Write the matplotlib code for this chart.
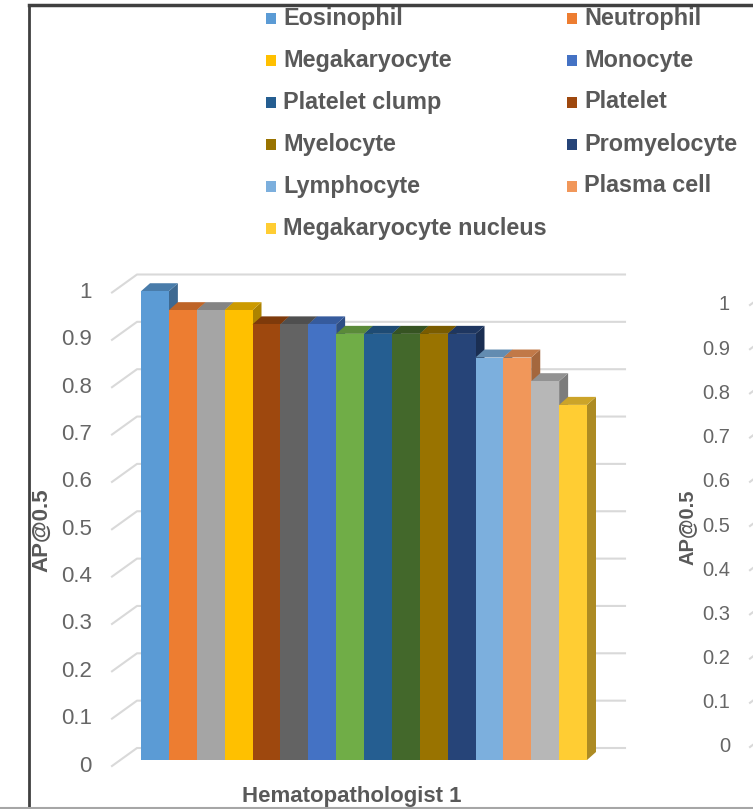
import matplotlib
matplotlib.use("Agg")
import matplotlib.pyplot as plt
from matplotlib.patches import Polygon, Rectangle
from matplotlib.lines import Line2D

# ---------------- data ----------------
cell_types = ["Eosinophil", "Neutrophil", "", "Megakaryocyte", "Platelet", "",
              "Monocyte", "", "Platelet clump", "", "Myelocyte", "Promyelocyte",
              "Lymphocyte", "Plasma cell", "", "Megakaryocyte nucleus"]
ap50 = [0.99, 0.95, 0.95, 0.95, 0.92, 0.92, 0.92, 0.90, 0.90, 0.90, 0.90, 0.90,
        0.85, 0.85, 0.80, 0.75]
bar_colors = ["#5B9BD5", "#ED7D31", "#A5A5A5", "#FFC000", "#9E480E", "#636363",
              "#4472C4", "#70AD47", "#255E91", "#43682B", "#997300", "#264478",
              "#7CAFDD", "#F1975A", "#B7B7B7", "#FFCD33"]
legend_order = ["Eosinophil", "Neutrophil", "Megakaryocyte", "Monocyte",
                "Platelet clump", "Platelet", "Myelocyte", "Promyelocyte",
                "Lymphocyte", "Plasma cell", "Megakaryocyte nucleus"]
y_ticks = [0, 0.1, 0.2, 0.3, 0.4, 0.5, 0.6, 0.7, 0.8, 0.9, 1]
tick_labels = ["0", "0.1", "0.2", "0.3", "0.4", "0.5", "0.6", "0.7", "0.8", "0.9", "1"]
group_label = "Hematopathologist 1"
y_title = "AP@0.5"

# ---------------- layout ----------------
W, H = 753, 809
TXT = "#595959"
GRID = "#d9d9d9"
FONT = "Liberation Sans"

fig = plt.figure(figsize=(W / 100, H / 100), dpi=100)
fig.patch.set_facecolor("white")


def fx(px):
    return px / W


def fy(py):
    return 1 - py / H


def shade(hex_color, f):
    h = hex_color.lstrip("#")
    r, g, b = (int(h[i:i + 2], 16) / 255 for i in (0, 2, 4))
    return (r * f, g * f, b * f)


# main chart: front plane of the bars
ax = fig.add_axes([fx(141), fy(760), fx(446), 473.5 / H])
ax.set_xlim(0, len(ap50))
ax.set_ylim(0, 1)
ax.axis("off")

px_x = 446 / len(ap50)      # pixels per bar slot
px_y = 473.5                # pixels per unit of AP

# 3D depth offsets (in data units)
bar_dx, bar_dy = 9 / px_x, 8 / px_y
wall_dy = 12 / px_y
front_dy = -6 / px_y
wall_x0, wall_x1 = (137 - 141) / px_x, (625 - 141) / px_x
front_x = (112 - 141) / px_x

# back wall gridlines with the perspective stubs toward the tick labels
for v in y_ticks:
    ax.add_line(Line2D([front_x, wall_x0, wall_x1],
                       [v + front_dy, v + wall_dy, v + wall_dy],
                       color=GRID, lw=1.5, clip_on=False, zorder=1))

# tick labels
for v, lab in zip(y_ticks, tick_labels):
    ax.text((92 - 141) / px_x, v + front_dy, lab, ha="right", va="center",
            fontsize=16, color="#666666", family=FONT, clip_on=False)

# 3D bars: side, top, then front face, drawn left to right
for i, (v, c) in enumerate(zip(ap50, bar_colors)):
    z = 10 + 3 * i
    side = Polygon([(i + 1, 0), (i + 1 + bar_dx, bar_dy),
                    (i + 1 + bar_dx, v + bar_dy), (i + 1, v)],
                   closed=True, facecolor=shade(c, 0.68), edgecolor="none",
                   clip_on=False, zorder=z)
    top = Polygon([(i, v), (i + 1, v), (i + 1 + bar_dx, v + bar_dy),
                   (i + bar_dx, v + bar_dy)],
                  closed=True, facecolor=shade(c, 0.8), edgecolor="none",
                  clip_on=False, zorder=z + 1)
    ax.add_patch(side)
    ax.add_patch(top)
    ax.bar(i, v, width=1, align="edge", color=c, edgecolor="none",
           zorder=z + 2, clip_on=False)

# axis titles
fig.text(fx(42), fy(530), y_title, rotation=90, ha="center", va="center",
         fontsize=16, fontweight="bold", color=TXT, family=FONT)
fig.text(fx(352), fy(802), group_label, ha="center", va="baseline",
         fontsize=16, fontweight="bold", color=TXT, family=FONT)

# legend (two columns, row-major)
col_x = [283, 584]
for k, name in enumerate(legend_order):
    row, col = divmod(k, 2)
    base = 24.5 + 42 * row
    c = bar_colors[cell_types.index(name)]
    fig.patches.append(Rectangle((fx(col_x[col] - 17), fy(base - 1)),
                                 10 / W, 11 / H, transform=fig.transFigure,
                                 facecolor=c, edgecolor="none"))
    fig.text(fx(col_x[col]), fy(base), name, ha="left", va="baseline",
             fontsize=16.8, fontweight="bold", color=TXT, family=FONT)

# neighbouring chart on the right, mostly outside the frame
ax2 = fig.add_axes([fx(740), fy(747), fx(13), 442 / H])
ax2.set_xlim(0, 1)
ax2.set_ylim(0, 1)
ax2.axis("off")
for v, lab in zip(y_ticks, tick_labels):
    ax2.text((730 - 740) / 13, v, lab, ha="right", va="center",
             fontsize=14.5, color="#666666", family=FONT, clip_on=False)
    ax2.add_line(Line2D([(750 - 740) / 13, (762 - 740) / 13],
                        [v, v + 9 / 442], color=GRID, lw=1.5, clip_on=False))
ax2.text((687 - 740) / 13, (747 - 527) / 442, y_title, rotation=90,
         ha="center", va="center", fontsize=14.5, fontweight="bold",
         color=TXT, family=FONT, clip_on=False)

# frame of the figure panel
fig.add_artist(Line2D([fx(29), fx(29)], [fy(5), fy(809)], color="#404040",
                      lw=2, transform=fig.transFigure))
fig.add_artist(Line2D([fx(29), 1], [fy(4.5), fy(4.5)], color="#404040",
                      lw=2.5, transform=fig.transFigure))
fig.add_artist(Line2D([0, 1], [fy(808), fy(808)], color="#a6a6a6",
                      lw=1.5, transform=fig.transFigure))

fig.savefig("out.png", dpi=100, facecolor="white")
